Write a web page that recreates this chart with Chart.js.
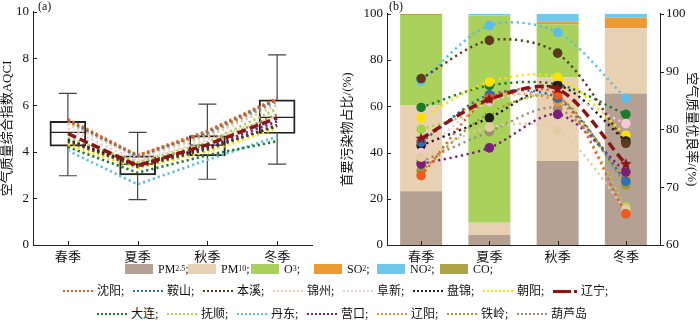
<!DOCTYPE html>
<html>
<head>
<meta charset="utf-8">
<script src="https://cdn.jsdelivr.net/npm/chart.js@4/dist/chart.umd.min.js"></script>
<style>
body{margin:0;background:#fff;width:700px;height:330px;position:relative;overflow:hidden;font-family:'Liberation Serif','Noto Sans CJK SC',serif;color:#111;}
.panel{position:absolute;top:0;height:265px;}
#boxWrap{left:0;width:330px;}
#barWrap{left:340px;width:360px;}
.tag{position:absolute;top:-1px;font-size:12px;}
.lg{position:absolute;font-size:12px;display:flex;align-items:center;white-space:nowrap;line-height:14px;}
.sw{display:inline-block;width:28px;height:10px;margin-right:5px;}
.dots{display:inline-block;width:30px;height:0;border-top:2.5px dotted;margin-right:4px;}
.dash{display:inline-block;width:18px;height:3px;margin-right:3px;}
.dot{display:inline-block;width:3px;height:3px;margin-right:4px;}
sub{font-size:8px;vertical-align:-3px;line-height:0;}
</style>
</head>
<body>
<div class="panel" id="boxWrap"><canvas id="boxChart"></canvas></div>
<div class="panel" id="barWrap"><canvas id="barChart"></canvas></div>
<div class="tag" style="left:38px">(a)</div>
<div class="tag" style="left:389px">(b)</div>
<div id="legend"></div>
<script>
const seasons = ['春季', '夏季', '秋季', '冬季'];

// AQCI box statistics per season
const aqciMin = [2.97, 1.95, 2.82, 3.47];
const aqciQ1 = [4.24, 3.01, 3.82, 4.78];
const aqciMedian = [4.83, 3.47, 4.28, 5.47];
const aqciQ3 = [5.30, 3.82, 4.69, 6.22];
const aqciMax = [6.50, 4.83, 6.04, 8.15];

// share of days by primary pollutant (%)
const pollutants = ['PM2.5', 'PM10', 'O3', 'SO2', 'NO2', 'CO'];
const pm25Share = [23.3, 4.3, 36.3, 65.5];
const pm10Share = [37.2, 5.3, 36.2, 28.3];
const o3Share = [39.0, 89.7, 23.0, 0];
const so2Share = [0, 0, 1.1, 4.6];
const no2Share = [0, 0.7, 3.4, 1.6];
const coShare = [0.5, 0, 0, 0];

const cities = ['沈阳', '鞍山', '本溪', '锦州', '阜新', '盘锦', '朝阳', '辽宁',
                '大连', '抚顺', '丹东', '营口', '辽阳', '铁岭', '葫芦岛'];

// seasonal AQCI per city, same order as cities
const aqciSy = [5.40, 3.85, 4.90, 6.30];
const aqciAs = [5.35, 3.80, 4.85, 6.25];
const aqciBx = [4.45, 3.35, 4.10, 5.15];
const aqciJz = [5.20, 3.75, 4.65, 6.00];
const aqciFx = [5.00, 3.60, 4.50, 5.50];
const aqciPj = [4.50, 3.40, 4.15, 5.10];
const aqciCy = [4.30, 3.30, 4.00, 5.00];
const aqciLn = [4.78, 3.40, 4.30, 5.45];
const aqciDl = [4.20, 3.10, 3.85, 4.45];
const aqciFs = [4.60, 3.55, 4.40, 5.85];
const aqciDd = [4.05, 2.60, 3.65, 4.65];
const aqciYk = [4.55, 3.45, 4.20, 5.30];
const aqciLy = [5.30, 3.85, 4.80, 6.25];
const aqciTl = [4.40, 3.50, 4.30, 5.60];
const aqciHld = [5.25, 3.80, 4.75, 6.15];

// seasonal good-air-quality rate per city (%)
const rateSy = [72.0, 85.4, 86.0, 65.4];
const rateAs = [77.8, 86.0, 85.4, 71.0];
const rateBx = [88.8, 95.4, 93.2, 77.6];
const rateJz = [75.2, 80.4, 79.8, 66.2];
const rateFx = [76.0, 84.8, 86.0, 81.0];
const ratePj = [77.2, 82.0, 87.6, 78.0];
const rateCy = [82.0, 88.2, 89.0, 79.0];
const rateLn = [78.4, 85.2, 87.0, 74.0];
const rateDl = [83.8, 87.6, 87.8, 82.6];
const rateFs = [80.0, 83.4, 85.6, 66.6];
const rateDd = [88.4, 98.0, 96.8, 85.4];
const rateYk = [74.0, 76.8, 82.6, 72.6];
const rateLy = [78.0, 85.6, 84.8, 72.0];
const rateTl = [72.8, 82.8, 85.6, 70.4];
const rateHld = [74.4, 79.6, 83.6, 71.6];

const aqciByCity = [aqciSy, aqciAs, aqciBx, aqciJz, aqciFx, aqciPj, aqciCy, aqciLn,
                    aqciDl, aqciFs, aqciDd, aqciYk, aqciLy, aqciTl, aqciHld];
const rateByCity = [rateSy, rateAs, rateBx, rateJz, rateFx, ratePj, rateCy, rateLn,
                    rateDl, rateFs, rateDd, rateYk, rateLy, rateTl, rateHld];

// ---- styling ----
const cityColors = ['#f05a1e', '#2f6fb3', '#5c3a1c', '#e3cba5', '#f7c8d6', '#1e1e1e', '#ffe100', '#8b1414',
                    '#1d7a2b', '#a9d24c', '#5bbde9', '#7a1f7c', '#e8962c', '#9c9a2e', '#a38a7a'];
const pollutantColors = ['#b5a194', '#e8d0b2', '#a9d15b', '#ee9a33', '#6fc7ec', '#ada446'];
const PROVINCE = 7;
const FONT = "'Liberation Serif','Noto Sans CJK SC',serif";

Chart.defaults.font.family = FONT;
Chart.defaults.font.size = 13;
Chart.defaults.color = '#111';

// short ticks drawn inside the frame (outside on the right axis)
const innerTicks = {
  id: 'innerTicks',
  afterDraw(chart) {
    const ctx = chart.ctx;
    ctx.save();
    ctx.strokeStyle = '#222';
    ctx.lineWidth = 1;
    Object.values(chart.scales).forEach(s => {
      s.ticks.forEach((t, i) => {
        const p = Math.round(s.getPixelForTick(i)) + 0.5;
        ctx.beginPath();
        if (s.axis === 'x') { ctx.moveTo(p, s.top); ctx.lineTo(p, s.top - 4); }
        else if (s.position === 'left') { ctx.moveTo(s.right, p); ctx.lineTo(s.right + 4, p); }
        else { ctx.moveTo(s.left, p); ctx.lineTo(s.left + 4, p); }
        ctx.stroke();
      });
    });
    ctx.restore();
  }
};

// whiskers and median of the AQCI boxes
const whiskers = {
  id: 'whiskers',
  beforeDatasetsDraw(chart) {
    const {ctx, scales: {x, y}} = chart;
    ctx.save();
    seasons.forEach((s, i) => {
      const cx = x.getPixelForValue(i);
      ctx.strokeStyle = '#444';
      ctx.lineWidth = 1.2;
      ctx.beginPath();
      ctx.moveTo(cx, y.getPixelForValue(aqciMax[i]));
      ctx.lineTo(cx, y.getPixelForValue(aqciQ3[i]));
      ctx.moveTo(cx, y.getPixelForValue(aqciQ1[i]));
      ctx.lineTo(cx, y.getPixelForValue(aqciMin[i]));
      [aqciMax[i], aqciMin[i]].forEach(v => {
        const py = y.getPixelForValue(v);
        ctx.moveTo(cx - 9, py); ctx.lineTo(cx + 9, py);
      });
      ctx.stroke();
      ctx.strokeStyle = '#222';
      ctx.beginPath();
      const my = y.getPixelForValue(aqciMedian[i]);
      ctx.moveTo(cx - 18, my); ctx.lineTo(cx + 18, my);
      ctx.stroke();
    });
    ctx.restore();
  }
};

function starImage(color, r) {
  const c = document.createElement('canvas');
  c.width = c.height = r * 2 + 2;
  const g = c.getContext('2d');
  g.fillStyle = color;
  g.beginPath();
  for (let i = 0; i < 10; i++) {
    const a = -Math.PI / 2 + i * Math.PI / 5;
    const rr = i % 2 ? r * 0.45 : r;
    g.lineTo(r + 1 + rr * Math.cos(a), r + 1 + rr * Math.sin(a));
  }
  g.closePath();
  g.fill();
  return c;
}

const fixWidth = w => s => { s.width = w; };
const fixHeight = h => s => { s.height = h; };

// ---- (a) AQCI ----
const aqciLines = cities.map((name, k) => ({
  type: 'line',
  label: name,
  data: aqciByCity[k],
  borderColor: cityColors[k],
  borderWidth: k === PROVINCE ? 3.5 : 2.6,
  borderDash: k === PROVINCE ? [9, 4] : [2.2, 3],
  pointRadius: 0,
  tension: 0,
  order: k === PROVINCE ? 0 : 1
}));

new Chart(document.getElementById('boxChart'), {
  type: 'bar',
  data: {
    labels: seasons,
    datasets: [{
      label: 'box',
      data: seasons.map((s, i) => [aqciQ1[i], aqciQ3[i]]),
      backgroundColor: 'rgba(0,0,0,0)',
      borderColor: '#222',
      borderWidth: 1.3,
      borderSkipped: false,
      barThickness: 36,
      order: 5
    }, ...aqciLines]
  },
  options: {
    responsive: true,
    maintainAspectRatio: false,
    animation: false,
    layout: {autoPadding: false, padding: {top: 5, right: 18, left: 0, bottom: 0}},
    plugins: {legend: {display: false}, tooltip: {enabled: false}},
    scales: {
      x: {
        grid: {display: false, drawTicks: false},
        border: {color: '#222', width: 1},
        ticks: {padding: 5, font: {size: 13}},
        afterFit: fixHeight(20)
      },
      y: {
        min: 0, max: 10,
        grid: {display: false, drawTicks: false},
        border: {color: '#222', width: 1},
        ticks: {stepSize: 2, padding: 4},
        title: {display: true, text: '空气质量综合指数AQCI', font: {size: 13}, padding: {top: 0, bottom: 1}},
        afterFit: fixWidth(33)
      }
    }
  },
  plugins: [whiskers, innerTicks]
});

// ---- (b) primary pollutant share and good-rate ----
const shareSeries = [pm25Share, pm10Share, o3Share, so2Share, no2Share, coShare];
const shareBars = pollutants.map((p, k) => ({
  type: 'bar',
  label: p,
  data: shareSeries[k],
  backgroundColor: pollutantColors[k],
  borderWidth: 0,
  yAxisID: 'y',
  stack: 'share',
  barPercentage: 0.615,
  categoryPercentage: 1,
  order: 10
}));

const provinceStar = starImage(cityColors[PROVINCE], 6);
const rateLines = cities.map((name, k) => ({
  type: 'line',
  label: name,
  data: rateByCity[k],
  yAxisID: 'y2',
  borderColor: cityColors[k],
  backgroundColor: cityColors[k],
  borderWidth: k === PROVINCE ? 3.5 : 2.4,
  borderDash: k === PROVINCE ? [9, 5] : [2.2, 3.6],
  pointRadius: 4.8,
  pointBorderWidth: 0,
  pointStyle: k === PROVINCE ? provinceStar : 'circle',
  tension: 0.3,
  order: k === PROVINCE ? 0 : 1
}));

new Chart(document.getElementById('barChart'), {
  type: 'bar',
  data: {labels: seasons, datasets: [...shareBars, ...rateLines]},
  options: {
    responsive: true,
    maintainAspectRatio: false,
    animation: false,
    layout: {autoPadding: false, padding: {top: 5, right: 0, left: 0, bottom: 0}},
    plugins: {legend: {display: false}, tooltip: {enabled: false}},
    scales: {
      x: {
        stacked: true,
        grid: {display: false, drawTicks: false},
        border: {color: '#222', width: 1},
        ticks: {padding: 5, font: {size: 13}},
        afterFit: fixHeight(20)
      },
      y: {
        stacked: true,
        min: 0, max: 100,
        grid: {display: false, drawTicks: false},
        border: {color: '#222', width: 1},
        ticks: {stepSize: 20, padding: 4},
        title: {display: true, text: '首要污染物占比/(%)', font: {size: 13}, padding: {top: 0, bottom: 1}},
        afterFit: fixWidth(47)
      },
      y2: {
        position: 'right',
        min: 60, max: 100,
        grid: {display: false, drawTicks: false},
        border: {color: '#222', width: 1},
        ticks: {stepSize: 10, padding: 6},
        title: {display: true, text: '空气质量优良率/(%)', font: {size: 13}, padding: {top: 1, bottom: 0}},
        afterFit: fixWidth(40)
      }
    }
  },
  plugins: [innerTicks]
});

// ---- legend ----
const legend = document.getElementById('legend');
function addItem(x, y, sample, text) {
  const d = document.createElement('div');
  d.className = 'lg';
  d.style.left = x + 'px';
  d.style.top = (y - 7) + 'px';
  d.innerHTML = sample + text;
  legend.appendChild(d);
}
pollutants.forEach((p, k) => {
  const txt = p.replace(/^([A-Z]+)([\d.]+)$/, '$1<sub>$2</sub>') + ';';
  addItem(125 + k * 63, 269, `<span class="sw" style="background:${pollutantColors[k]}"></span>`, txt);
});
cities.forEach((c, k) => {
  const row = k < 8 ? 0 : 1;
  const i = row ? k - 8 : k;
  const x = row ? 97 + i * 70 : 63 + i * 70;
  const y = row ? 314 : 291;
  const sample = k === PROVINCE
    ? `<span class="dash" style="background:${cityColors[k]}"></span><span class="dot" style="background:${cityColors[k]}"></span>`
    : `<span class="dots" style="border-color:${cityColors[k]}"></span>`;
  addItem(x, y, sample, c + (k === cities.length - 1 ? '' : ';'));
});
</script>
</body>
</html>
